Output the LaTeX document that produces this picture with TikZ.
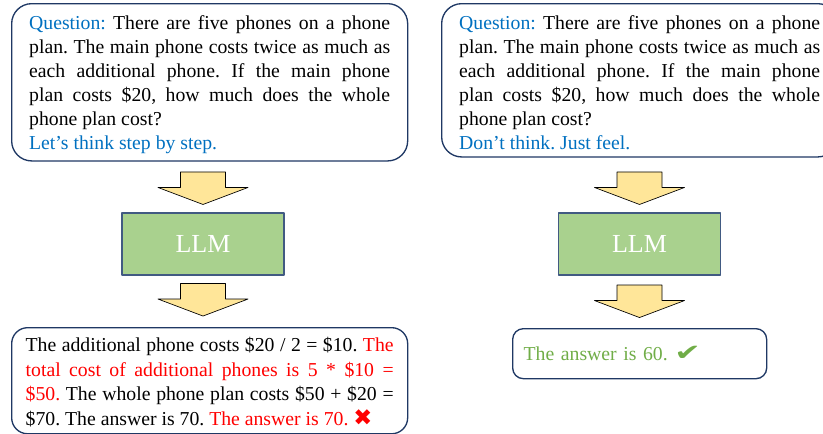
\documentclass[tikz,border=0pt]{standalone}
\usepackage{fontspec}
\setmainfont{Liberation Serif}
\newfontfamily\symbfont{DejaVu Sans}
\usetikzlibrary{calc}
\definecolor{qblue}{RGB}{0,112,192}
\definecolor{wrongred}{RGB}{255,0,0}
\definecolor{rightgreen}{RGB}{112,173,71}
\definecolor{llmfill}{RGB}{169,209,142}
\definecolor{llmline}{RGB}{65,90,130}
\definecolor{arrowfill}{RGB}{255,230,153}
\definecolor{boxline}{RGB}{31,56,100}
\frenchspacing

\begin{document}
\begin{tikzpicture}[x=0.75pt, y=-0.75pt, line join=round,
	qbox/.style={draw=boxline, line width=1pt, rounded corners=15pt, anchor=north west, text width=270.75pt, align=justify, inner xsep=13.125pt, inner ysep=5.25pt, text height=14.25pt, font=\fontsize{14.8}{18}\selectfont},
	llm/.style={draw=llmline, fill=llmfill, line width=0.8pt, minimum width=121.5pt, minimum height=46.5pt, text=white, font=\fontsize{19.5}{22}\selectfont},
	blockarrow/.pic={\draw[fill=arrowfill, line width=0.5pt] (-22.5,0) -- (22.5,0) -- (22.5,15.5) -- (45,15.5) -- (0,32.5) -- (-45,15.5) -- (-22.5,15.5) -- cycle;}]
	\useasboundingbox (0,0) rectangle (823,433);
	\clip (0,0) rectangle (823,433);
	% left: step by step
	\node[qbox] (qleft) at (11,3) {\textcolor{qblue}{Question:} There are five phones on a phone\linebreak plan. The main phone costs twice as much as\linebreak each additional phone. If the main phone\linebreak plan costs \$20, how much does the whole\linebreak phone plan cost?\\ \textcolor{qblue}{Let’s think step by step.}};
	\node[llm] (llmleft) at (203,244) {LLM};
	\node[qbox, rounded corners=12pt, text width=276pt, inner xsep=10.5pt, text height=12.75pt, font=\fontsize{14.8}{18.4}\selectfont] (ansleft) at (11,327) {The additional phone costs \$20 / 2 = \$10. \textcolor{wrongred}{The}\linebreak \textcolor{wrongred}{total cost of additional phones is 5 * \$10 =}\linebreak \textcolor{wrongred}{\$50.} The whole phone plan costs \$50 + \$20 =\linebreak \$70. The answer is 70. \textcolor{wrongred}{The answer is 70.} {\symbfont\fontsize{17}{18}\selectfont\textcolor{wrongred}{✖}}};
	\pic at ($(llmleft.north)+(0,-40.5)$) {blockarrow};
	\pic at ($(llmleft.south)+(0,8)$) {blockarrow};
	% right: just feel
	\node[qbox] (qright) at (441,3) {\textcolor{qblue}{Question:} There are five phones on a phone\linebreak plan. The main phone costs twice as much as\linebreak each additional phone. If the main phone\linebreak plan costs \$20, how much does the whole\linebreak phone plan cost?\\ \textcolor{qblue}{Don’t think. Just feel.}};
	\node[llm] (llmright) at (639.5,244) {LLM};
	\node[draw=boxline, line width=1pt, rounded corners=8pt, anchor=north west, minimum width=190.5pt, minimum height=37.5pt, text width=174pt, inner xsep=8.25pt, align=left, text=rightgreen, font=\fontsize{14.8}{18}\selectfont] (ansright) at (512,328) {The answer is 60. {\symbfont\fontsize{17}{18}\selectfont\scalebox{1.4}[1]{✔}}};
	\pic at ($(llmright.north)+(0,-40.5)$) {blockarrow};
	\pic at ($(llmright.south)+(0,9.5)$) {blockarrow};
\end{tikzpicture}
\end{document}
